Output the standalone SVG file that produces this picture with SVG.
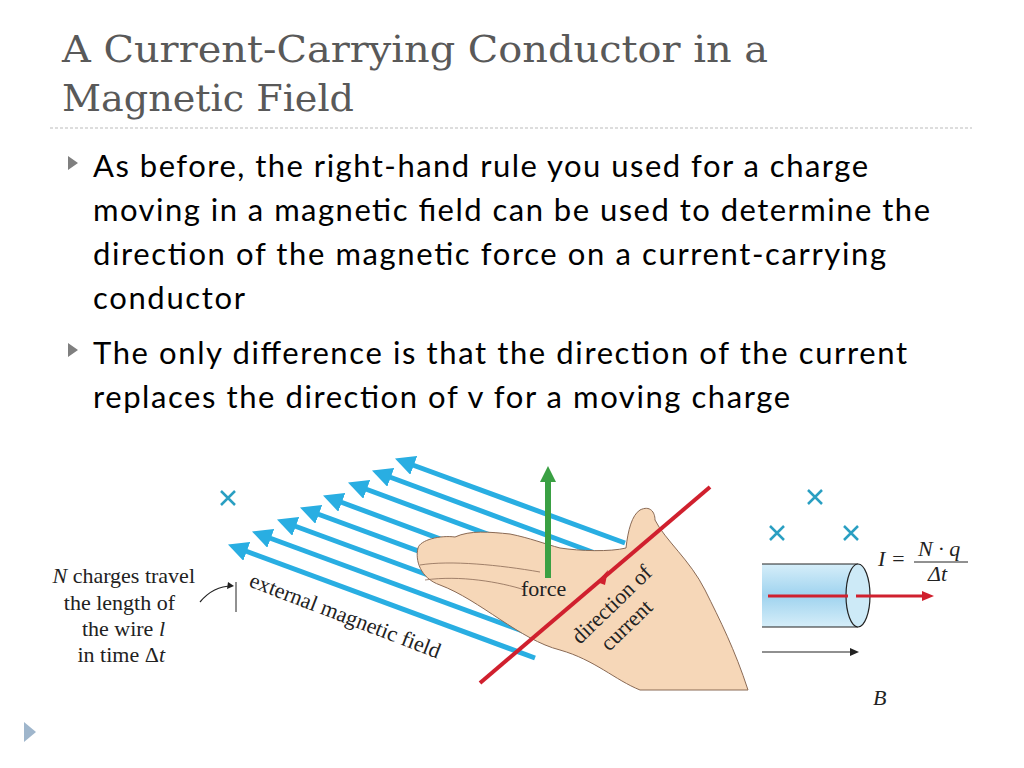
<svg xmlns="http://www.w3.org/2000/svg" width="1024" height="768" viewBox="0 0 1024 768">
<style>
.t{font-family:"DejaVu Serif",serif;fill:#595959;font-size:37px}
.b{font-family:Lato,"Open Sans",sans-serif;font-size:31px;fill:#000}
.s{font-family:"Liberation Serif",serif;font-size:22px;fill:#222}
.fl{stroke:#29aee2;stroke-width:5;marker-start:url(#bh)}
.x{stroke:#2a9fc2;stroke-width:2.5}
</style>
<defs>
<marker id="bh" viewBox="0 0 10 10" refX="2" refY="5" markerWidth="4" markerHeight="4" orient="auto-start-reverse"><path d="M0,0L10,5L0,10z" fill="#29aee2"/></marker>
<linearGradient id="cyl" x1="0" y1="0" x2="0" y2="1"><stop offset="0" stop-color="#d6eef9"/><stop offset="0.5" stop-color="#9fd3ef"/><stop offset="1" stop-color="#d6eef9"/></linearGradient>
</defs>
<rect width="1024" height="768" fill="#fff"/>
<text class="t" x="62" y="62" textLength="706" lengthAdjust="spacingAndGlyphs">A Current-Carrying Conductor in a</text>
<text class="t" x="62" y="111" textLength="292" lengthAdjust="spacingAndGlyphs">Magnetic Field</text>
<line x1="50" y1="128" x2="972" y2="128" stroke="#bbb" stroke-dasharray="3,2"/>
<path d="M68,156l10,7l-10,7z M68,343l10,7l-10,7z" fill="#7f7f7f"/>
<g class="b">
<text x="93" y="177" textLength="775">As before, the right-hand rule you used for a charge</text>
<text x="93" y="221" textLength="837">moving in a magnetic field can be used to determine the</text>
<text x="93" y="265" textLength="793">direction of the magnetic force on a current-carrying</text>
<text x="93" y="309" textLength="152">conductor</text>
<text x="93" y="364" textLength="814">The only difference is that the direction of the current</text>
<text x="93" y="408" textLength="697">replaces the direction of v for a moving charge</text>
</g>
<path d="M24,722l12,10l-12,10z" fill="#9fb6cc"/>
<g id="field">
<line class="fl" x1="243" y1="550" x2="535" y2="658"/>
<line class="fl" x1="267" y1="537" x2="555" y2="643"/>
<line class="fl" x1="292" y1="525" x2="575" y2="629"/>
<line class="fl" x1="315" y1="513" x2="595" y2="616"/>
<line class="fl" x1="338" y1="501" x2="610" y2="602"/>
<line class="fl" x1="363" y1="488" x2="625" y2="585"/>
<line class="fl" x1="387" y1="476" x2="630" y2="566"/>
<line class="fl" x1="410" y1="464" x2="625" y2="543"/>
</g>
<g id="hand">
<path d="M418,548 C420,540 440,535 455,537 C470,530 490,532 510,534 C530,538 545,544 560,548 C580,551 610,552 626,548 C628,530 632,515 640,510 C650,505 655,512 655,520 C665,540 690,560 705,590 C720,620 735,650 748,690 L640,690 C615,680 595,660 560,650 C520,640 480,600 440,585 C420,578 415,560 418,548 Z" fill="#f6d7b8" stroke="#8a6a55" stroke-width="1"/>
<path d="M420,565 C450,560 500,565 540,572 M425,580 C460,575 500,582 525,590" fill="none" stroke="#8a6a55" stroke-width="0.8"/>
</g>
<g id="connectors">
<line x1="548" y1="578" x2="548" y2="478" stroke="#3aa043" stroke-width="6"/>
<path d="M540,482l8,-16l8,16z" fill="#3aa043"/>
<line x1="480" y1="683" x2="710" y2="487" stroke="#d0202e" stroke-width="4"/>
<path d="M597,582l11,-12l-3,15z" fill="#d0202e"/>
<path d="M200,602 C210,590 220,586 232,586" fill="none" stroke="#222" stroke-width="1.2"/>
<path d="M228,582l6,4l-7,3z" fill="#222"/>
<line x1="236" y1="582" x2="236" y2="612" stroke="#222" stroke-width="1"/>
</g>
<text class="s" transform="translate(248,586) rotate(21)">external magnetic field</text>
<text class="s" x="521" y="596">force</text>
<text class="s" transform="translate(580,645) rotate(-44)">direction of</text>
<text class="s" transform="translate(609,652) rotate(-44)">current</text>
<g class="s" text-anchor="end">
<text x="195" y="583"><tspan font-style="italic">N</tspan> charges travel</text>
<text x="175" y="610">the length of</text>
<text x="165" y="636">the wire <tspan font-style="italic">l</tspan></text>
<text x="165" y="662">in time Δ<tspan font-style="italic">t</tspan></text>
</g>
<g id="crosses">
<path class="x" d="M221,491l14,14M235,491l-14,14 M808,490l14,14M822,490l-14,14 M770,526l14,14M784,526l-14,14 M844,526l14,14M858,526l-14,14"/>
</g>
<g id="wire">
<rect x="762" y="564" width="96" height="63" fill="url(#cyl)"/>
<line x1="762" y1="564" x2="858" y2="564" stroke="#222"/>
<line x1="762" y1="627" x2="858" y2="627" stroke="#222"/>
<ellipse cx="858" cy="595.5" rx="12" ry="31.5" fill="#cdeaf7" stroke="#222" stroke-width="1.2"/>
<line x1="768" y1="596" x2="848" y2="596" stroke="#d0202e" stroke-width="3"/>
<line x1="856" y1="596" x2="925" y2="596" stroke="#d0202e" stroke-width="3"/>
<path d="M922,591l12,5l-12,5z" fill="#d0202e"/>
<line x1="762" y1="652" x2="852" y2="652" stroke="#222" stroke-width="1.2"/>
<path d="M850,648l9,4l-9,4z" fill="#222"/>
</g>
<g class="s" font-style="italic">
<text x="878" y="566">I =</text>
<text x="918" y="556">N · q</text>
<text x="928" y="581">Δt</text>
<text x="873" y="705">B</text>
</g>
<line x1="914" y1="562" x2="968" y2="562" stroke="#222"/>
</svg>
